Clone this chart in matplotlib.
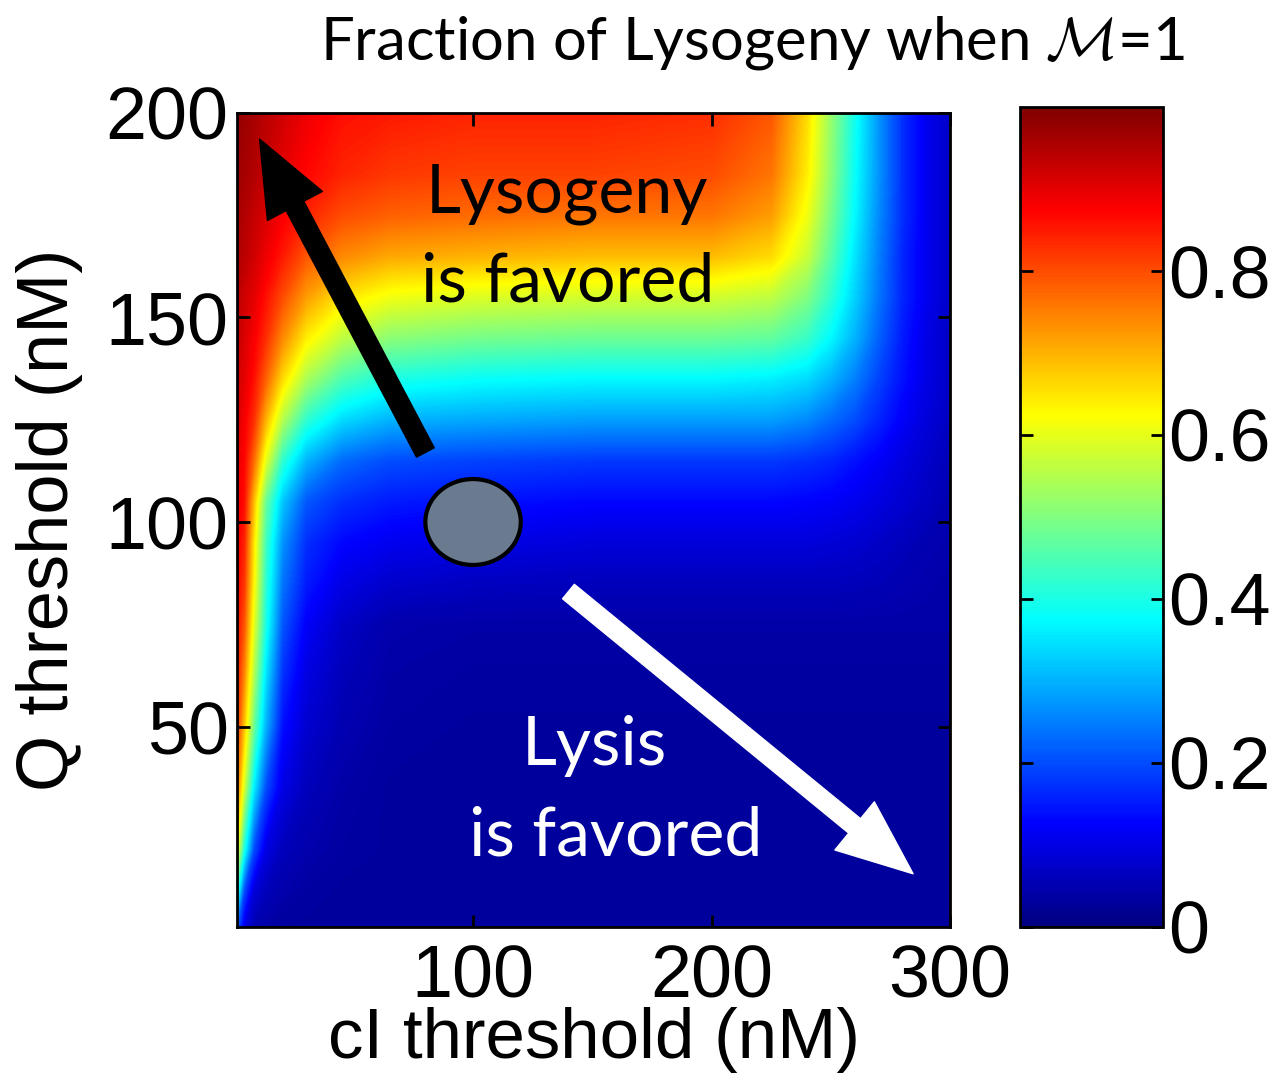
import numpy as np
import matplotlib
matplotlib.use("Agg")
import matplotlib.pyplot as plt
from matplotlib.patches import Ellipse
from matplotlib.colors import LinearSegmentedColormap

plt.rcParams['mathtext.fontset'] = 'cm'

# cI threshold (nM) sample points, columns of the table
ci_threshold = [1, 4, 8, 13, 20, 30, 45, 65, 100, 150, 200, 225, 240, 250, 260, 270, 280, 290, 300]
# Q threshold (nM) sample points, rows of the table
q_threshold = [1, 10, 20, 35, 50, 65, 75, 85, 95, 105, 115, 125, 135, 145, 155, 165, 175, 185, 200]

# fraction of lysogeny (row = Q threshold, col = cI threshold)
frac_lysogeny = [
    [.22, .10, .05, .04, .03, .03, .03, .03, .03, .03, .03, .03, .03, .03, .03, .03, .03, .03, .03],
    [.42, .20, .09, .06, .045, .035, .03, .03, .03, .03, .03, .03, .03, .03, .03, .03, .03, .03, .03],
    [.62, .40, .20, .10, .06, .045, .035, .03, .03, .03, .03, .03, .03, .03, .03, .03, .03, .03, .03],
    [.76, .58, .36, .20, .10, .06, .04, .03, .03, .03, .03, .03, .03, .03, .03, .03, .03, .03, .03],
    [.82, .68, .48, .30, .14, .08, .05, .035, .03, .03, .03, .03, .03, .03, .03, .03, .03, .03, .03],
    [.85, .75, .56, .36, .18, .10, .06, .04, .035, .035, .035, .035, .035, .035, .035, .035, .035, .035, .035],
    [.86, .79, .60, .40, .21, .12, .07, .045, .04, .04, .04, .04, .04, .04, .04, .04, .04, .04, .04],
    [.87, .82, .63, .42, .24, .15, .10, .075, .065, .06, .06, .06, .06, .06, .058, .055, .05, .045, .04],
    [.88, .84, .65, .44, .27, .17, .13, .11, .10, .09, .09, .09, .09, .085, .08, .07, .06, .05, .045],
    [.89, .86, .69, .48, .32, .21, .17, .15, .14, .13, .13, .13, .125, .12, .11, .095, .08, .065, .05],
    [.90, .87, .77, .60, .42, .30, .23, .20, .19, .18, .18, .18, .17, .16, .14, .12, .095, .075, .055],
    [.91, .88, .83, .70, .55, .42, .34, .30, .29, .28, .28, .28, .26, .23, .20, .16, .12, .09, .065],
    [.92, .90, .86, .78, .66, .54, .45, .40, .38, .37, .37, .36, .34, .30, .25, .19, .14, .10, .07],
    [.93, .91, .88, .83, .74, .64, .56, .51, .49, .48, .48, .47, .43, .37, .30, .22, .15, .10, .07],
    [.94, .92, .90, .86, .80, .72, .65, .61, .59, .58, .58, .56, .50, .42, .33, .24, .16, .11, .07],
    [.95, .94, .92, .89, .85, .79, .74, .71, .70, .69, .69, .66, .57, .46, .35, .25, .16, .11, .07],
    [.96, .95, .93, .91, .88, .84, .80, .78, .77, .76, .76, .72, .61, .49, .37, .26, .17, .11, .07],
    [.97, .96, .95, .93, .90, .87, .84, .82, .81, .81, .80, .76, .64, .51, .38, .27, .17, .11, .07],
    [.98, .97, .96, .94, .92, .89, .86, .85, .84, .84, .83, .79, .66, .52, .39, .27, .17, .11, .07],
]

cbar_ticks = [0, 0.2, 0.4, 0.6, 0.8]
cbar_labels = ['0', '0.2', '0.4', '0.6', '0.8']
x_ticks = [100, 200, 300]
y_ticks = [50, 100, 150, 200]

# MATLAB style jet
matlab_jet = LinearSegmentedColormap.from_list('matlab_jet', [
    (0.0, (0, 0, 0.5)), (0.125, (0, 0, 1)), (0.375, (0, 1, 1)),
    (0.625, (1, 1, 0)), (0.875, (1, 0, 0)), (1.0, (0.5, 0, 0))])

fig = plt.figure(figsize=(12.78, 10.81), dpi=100)
ax = fig.add_axes([0.1854, 0.1425, 0.558, 0.753])
cax = fig.add_axes([0.798, 0.1425, 0.112, 0.7586])

X, Y = np.meshgrid(ci_threshold, q_threshold)
Z = np.array(frac_lysogeny)
levels = np.linspace(0, 1, 257)
cs = ax.contourf(X, Y, Z, levels=levels, cmap=matlab_jet, vmin=0, vmax=1)

ax.set_xlim(1, 300)
ax.set_ylim(1, 200)
ax.set_xticks(x_ticks)
ax.set_yticks(y_ticks)
tick_font = dict(family=['Liberation Sans', 'DejaVu Sans'], size=53)
ax.set_xticklabels([str(t) for t in x_ticks], **tick_font)
ax.set_yticklabels([str(t) for t in y_ticks], **tick_font)
ax.tick_params(axis='both', direction='in', length=9, width=2, top=True, right=True)
ax.tick_params(axis='x', pad=12)
ax.tick_params(axis='y', pad=6)
ax.set_xlabel('cI threshold (nM)', family=['Liberation Sans', 'DejaVu Sans'], size=51, labelpad=-4)
ax.set_ylabel('Q threshold (nM)', family=['Liberation Sans', 'DejaVu Sans'], size=52, labelpad=16)
for s in ax.spines.values():
    s.set_linewidth(2)

# annotations
ann_font = ['Lato', 'DejaVu Sans']
ax.text(139.5, 175.7, 'Lysogeny', ha='center', va='baseline', size=49, family=ann_font, color='black')
ax.text(139.5, 154, 'is favored', ha='center', va='baseline', size=49, family=ann_font, color='black')
ax.text(151, 40.5, 'Lysis', ha='center', va='baseline', size=49, family=ann_font, color='white')
ax.text(159.7, 18.4, 'is favored', ha='center', va='baseline', size=49, family=ann_font, color='white')

ax.annotate('', xy=(10.5, 193.6), xytext=(80, 117),
            arrowprops=dict(arrowstyle='simple,head_length=1.7,head_width=1.4,tail_width=0.45',
                            mutation_scale=32, color='black', shrinkA=0, shrinkB=0))
ax.annotate('', xy=(284.5, 14), xytext=(140, 83),
            arrowprops=dict(arrowstyle='simple,head_length=1.7,head_width=1.4,tail_width=0.42',
                            mutation_scale=32, color='white', shrinkA=0, shrinkB=0))

ax.add_patch(Ellipse((100, 100), 40, 21, facecolor='#6b7b8f', edgecolor='black', lw=3, zorder=5))

cb = fig.colorbar(cs, cax=cax, ticks=cbar_ticks)
cb.ax.set_yticklabels(cbar_labels, **tick_font)
cb.ax.tick_params(direction='in', length=9, width=2, left=True, right=True, pad=4)
cb.outline.set_linewidth(2)

fig.text(0.589, 1 - 60 / 1081, r'Fraction of Lysogeny when $\mathcal{M}$=1', ha='center', va='baseline',
         size=43, family=ann_font)

fig.savefig('out.png', dpi=100)
